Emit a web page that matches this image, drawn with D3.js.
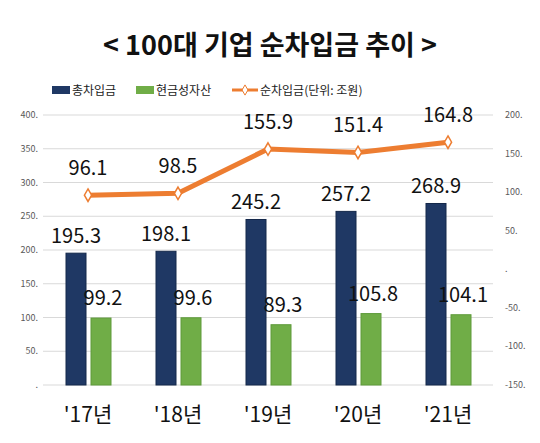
<!DOCTYPE html><html><head><meta charset="utf-8">
<script src="https://d3js.org/d3.v7.min.js"></script>
<style>body{margin:0;background:#fff}text{font-family:"Noto Sans CJK KR","Noto Sans",sans-serif}.n{font-family:"Liberation Sans Narrow","Noto Sans CJK KR",sans-serif}</style></head><body>
<svg id="c" width="540" height="443"></svg>
<script>
const categories=["'17년","'18년","'19년","'20년","'21년"];
const totalBorrow=[195.3,198.1,245.2,257.2,268.9];
const cashAssets=[99.2,99.6,89.3,105.8,104.1];
const netBorrow=[96.1,98.5,155.9,151.4,164.8];
const leftTicks=[0,50,100,150,200,250,300,350,400];
const rightTicks=[-150,-100,-50,0,50,100,150,200];
const svg=d3.select("#c");
const L=43,R=493,T=115,B=385;
const x=d3.scaleBand().domain(categories).range([L,R]).paddingInner(0).paddingOuter(0);
const yL=d3.scaleLinear().domain([0,400]).range([B,T]);
const yR=d3.scaleLinear().domain([-150,200]).range([B,T]);
svg.append("text").attr("x",270).attr("y",55).attr("text-anchor","middle").attr("font-size",27).attr("font-weight","bold").attr("fill","#111").text("< 100대 기업 순차입금 추이 >");
svg.selectAll(".g").data(leftTicks).join("line").attr("x1",L).attr("x2",R).attr("y1",d=>yL(d)).attr("y2",d=>yL(d)).attr("stroke","#d9d9d9").attr("stroke-width",1);
svg.selectAll(".lt").data(leftTicks).join("text").attr("x",38).attr("y",d=>yL(d)+3).attr("text-anchor","end").attr("font-size",9).attr("fill","#595959").text(d=>d===0?".":d+".");
svg.selectAll(".rt").data(rightTicks).join("text").attr("x",505).attr("y",d=>yR(d)+3).attr("font-size",9).attr("fill","#595959").text(d=>d===0?".":d+".");
const bw=20;
const g=svg.append("g");
categories.forEach((c,i)=>{
 const cx=x(c)+x.bandwidth()/2;
 g.append("rect").attr("x",cx-22).attr("width",bw).attr("y",yL(totalBorrow[i])).attr("height",B-yL(totalBorrow[i])).attr("fill","#1F3864").attr("stroke","#14284a");
 g.append("rect").attr("x",cx+3).attr("width",bw).attr("y",yL(cashAssets[i])).attr("height",B-yL(cashAssets[i])).attr("fill","#70AD47").attr("stroke","#5e9a3a");
 g.append("text").attr("class","n").attr("x",cx-12).attr("y",yL(totalBorrow[i])-10).attr("text-anchor","middle").attr("font-size",20).attr("fill","#111").text(totalBorrow[i].toFixed(1));
 g.append("text").attr("class","n").attr("x",cx+15).attr("y",yL(cashAssets[i])-13).attr("text-anchor","middle").attr("font-size",20).attr("fill","#111").text(cashAssets[i].toFixed(1));
 g.append("text").attr("class","n").attr("x",cx).attr("y",422).attr("text-anchor","middle").attr("font-size",21).attr("fill","#111").text(c);
});
const px=(d,i)=>x(categories[i])+x.bandwidth()/2;
svg.append("path").datum(netBorrow).attr("d",d3.line().x(px).y(d=>yR(d))).attr("fill","none").attr("stroke","#ED7D31").attr("stroke-width",5);
svg.selectAll(".m").data(netBorrow).join("path").attr("d",d3.symbol(d3.symbolDiamond,45)).attr("transform",(d,i)=>`translate(${px(d,i)},${yR(d)})`).attr("fill","#fff").attr("stroke","#ED7D31").attr("stroke-width",1.5);
svg.selectAll(".nl").data(netBorrow).join("text").attr("class","n").attr("x",px).attr("y",d=>yR(d)-20).attr("text-anchor","middle").attr("font-size",20).attr("fill","#111").text(d=>d.toFixed(1));
const lg=svg.append("g").attr("font-size",12).attr("fill","#222");
lg.append("rect").attr("x",52).attr("y",86).attr("width",18).attr("height",8).attr("fill","#1F3864");
lg.append("text").attr("x",72).attr("y",95).text("총차입금");
lg.append("rect").attr("x",136).attr("y",86).attr("width",18).attr("height",8).attr("fill","#70AD47");
lg.append("text").attr("x",156).attr("y",95).text("현금성자산");
lg.append("line").attr("x1",232).attr("x2",258).attr("y1",90).attr("y2",90).attr("stroke","#ED7D31").attr("stroke-width",3);
lg.append("path").attr("d",d3.symbol(d3.symbolDiamond,30)).attr("transform","translate(245,90)").attr("fill","#fff").attr("stroke","#ED7D31");
lg.append("text").attr("x",260).attr("y",95).text("순차입금(단위: 조원)");
</script></body></html>
